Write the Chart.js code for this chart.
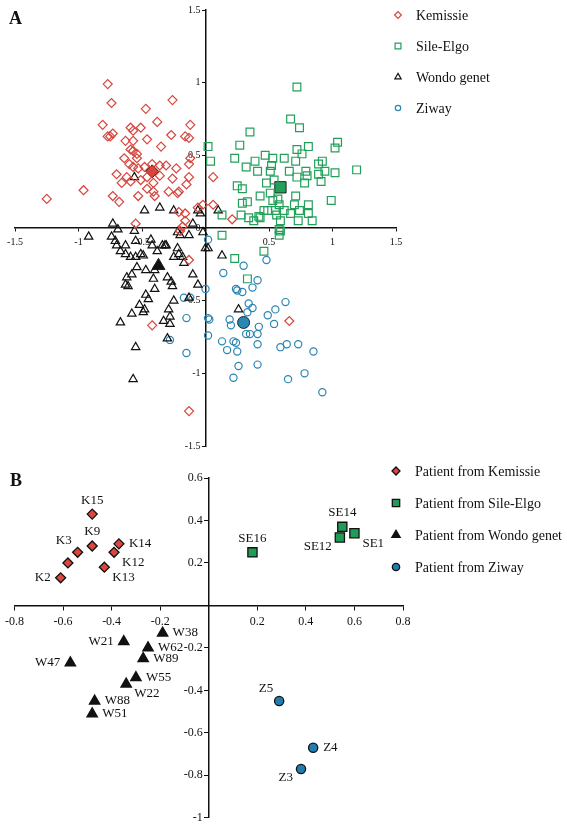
<!DOCTYPE html>
<html>
<head>
<meta charset="utf-8">
<script src="https://cdn.jsdelivr.net/npm/chart.js@4/dist/chart.umd.min.js"></script>
<style>
body{margin:0;background:#fff;}
#cadre{position:relative;width:567px;height:828px;}
canvas{position:absolute;left:0;}
.lettre{position:absolute;font:bold 18px "Liberation Serif",serif;color:#111;}
</style>
</head>
<body>
<div id="cadre">
<canvas id="graphA" width="567" height="455" style="top:0"></canvas>
<canvas id="graphB" width="567" height="373" style="top:455px"></canvas>
<div class="lettre" style="left:9px;top:8px">A</div>
<div class="lettre" style="left:10px;top:470px">B</div>
</div>
<script>
// ---- panneau A : individus (coord 1, coord 2) ----
var kemissiePts = [[-0.77,0.99],[-0.74,0.86],[-0.47,0.82],[-0.26,0.88],[-0.38,0.73],[-0.81,0.71],[-0.12,0.71],
[-0.73,0.65],[-0.75,0.63],[-0.77,0.63],[-0.59,0.69],[-0.57,0.67],[-0.51,0.69],[-0.27,0.64],
[-0.46,0.61],[-0.57,0.60],[-0.63,0.60],[-0.16,0.63],[-0.13,0.62],[-0.35,0.56],[-0.59,0.54],
[-0.57,0.53],[-0.54,0.51],[-0.64,0.48],[-0.60,0.44],[-0.54,0.48],[-0.42,0.44],[-0.36,0.43],
[-0.31,0.43],[-0.23,0.41],[-0.12,0.48],[-0.13,0.44],[-0.57,0.42],[-0.53,0.41],[-0.48,0.42],
[-0.70,0.37],[-0.62,0.35],[-0.51,0.33],[-0.46,0.35],[-0.36,0.36],[-0.26,0.34],[-0.13,0.35],
[-0.66,0.31],[-0.59,0.32],[-0.41,0.31],[-1.25,0.20],[-0.96,0.26],[-0.73,0.22],[-0.68,0.18],
[-0.53,0.22],[-0.46,0.27],[-0.41,0.25],[-0.40,0.22],[-0.29,0.25],[-0.22,0.24],[-0.21,0.25],
[-0.21,0.11],[-0.16,0.10],[-0.16,0.05],[-0.55,0.03],[-0.18,0.01],[-0.20,-0.02],[-0.06,0.14],
[0.06,0.35],[0.06,0.16],[-0.02,0.16],[0.21,0.06],[-0.13,-0.22],[-0.42,-0.67],[0.66,-0.64],
[-0.13,-1.26],[-0.15,0.30]];
var sileElgoPts = [[0.72,0.97],[0.67,0.75],[0.74,0.69],[0.35,0.66],[1.04,0.59],[1.02,0.55],[0.02,0.56],[0.04,0.46],
[0.27,0.57],[0.81,0.56],[0.72,0.54],[0.76,0.51],[0.47,0.50],[0.53,0.48],[0.62,0.48],[0.23,0.48],
[0.32,0.42],[0.39,0.46],[0.41,0.39],[0.52,0.43],[0.51,0.39],[0.66,0.39],[0.71,0.46],[0.79,0.39],
[0.80,0.36],[0.72,0.35],[0.78,0.31],[0.89,0.44],[0.92,0.46],[0.89,0.37],[0.94,0.39],[0.91,0.32],
[1.02,0.38],[1.19,0.40],[0.99,0.19],[0.25,0.29],[0.29,0.27],[0.48,0.31],[0.54,0.33],[0.43,0.22],
[0.51,0.24],[0.53,0.19],[0.33,0.18],[0.29,0.17],[0.57,0.20],[0.58,0.16],[0.55,0.12],[0.71,0.22],
[0.70,0.16],[0.67,0.10],[0.81,0.16],[0.81,0.10],[0.74,0.12],[0.46,0.12],[0.49,0.12],[0.62,0.12],
[0.28,0.09],[0.34,0.07],[0.38,0.05],[0.42,0.08],[0.43,0.07],[0.56,0.09],[0.59,0.05],[0.58,-0.01],
[0.59,-0.02],[0.73,0.05],[0.84,0.05],[0.13,0.09],[0.13,-0.05],[0.58,-0.05],[0.46,-0.16],[0.23,-0.21],
[0.33,-0.35]];
var wondoPts = [[-0.48,0.12],[-0.36,0.14],[-0.25,0.12],[-0.73,0.03],[-0.69,-0.01],[-0.92,-0.06],[-0.74,-0.06],
[-0.71,-0.09],[-0.70,-0.12],[-0.63,-0.12],[-0.67,-0.16],[-0.55,-0.09],[-0.56,-0.02],[-0.63,-0.18],
[-0.59,-0.20],[-0.55,-0.20],[-0.51,-0.18],[-0.49,-0.19],[-0.43,-0.08],[-0.42,-0.12],[-0.38,-0.16],
[-0.34,-0.12],[-0.32,-0.12],[-0.31,-0.12],[-0.22,-0.03],[-0.20,-0.05],[-0.22,-0.14],[-0.21,-0.18],
[-0.25,-0.20],[-0.18,-0.20],[-0.17,-0.24],[-0.13,-0.05],[-0.10,0.03],[-0.54,-0.27],[-0.47,-0.29],
[-0.40,-0.29],[-0.62,-0.34],[-0.58,-0.32],[-0.63,-0.39],[-0.61,-0.40],[-0.41,-0.35],[-0.40,-0.42],
[-0.30,-0.34],[-0.27,-0.37],[-0.26,-0.40],[-0.10,-0.32],[-0.06,-0.39],[-0.47,-0.46],[-0.45,-0.49],
[-0.25,-0.50],[-0.13,-0.48],[-0.52,-0.53],[-0.48,-0.56],[-0.49,-0.58],[-0.58,-0.59],[-0.29,-0.56],
[-0.28,-0.61],[-0.67,-0.65],[-0.33,-0.64],[-0.28,-0.66],[-0.30,-0.76],[-0.55,-0.82],[-0.57,-1.04],
[-0.56,0.35],[0,-0.14],[0.02,-0.14],[0.13,-0.19],[0.26,-0.56],[-0.06,0.12],[-0.04,0.10],[0.10,0.12],
[-0.02,-0.03]];
var ziwayPts = [[0.48,-0.22],[0.30,-0.26],[0.14,-0.31],[0.41,-0.36],[0.37,-0.41],[0.24,-0.42],[0.25,-0.43],[0.29,-0.44],
[0,-0.42],[-0.17,-0.48],[-0.12,-0.48],[0.34,-0.52],[0.37,-0.55],[0.33,-0.58],[0.63,-0.51],[0.55,-0.56],
[0.49,-0.60],[0.54,-0.66],[-0.15,-0.62],[0.02,-0.62],[0.03,-0.63],[0.19,-0.63],[0.20,-0.67],[0.42,-0.68],
[0.41,-0.73],[0.35,-0.73],[0.32,-0.73],[0.02,-0.74],[-0.28,-0.77],[0.13,-0.78],[0.22,-0.78],[0.24,-0.79],
[0.41,-0.80],[0.59,-0.82],[0.64,-0.80],[0.73,-0.80],[0.85,-0.85],[0.17,-0.84],[0.25,-0.85],[-0.15,-0.86],
[0.26,-0.95],[0.41,-0.94],[0.22,-1.03],[0.78,-1.00],[0.65,-1.04],[0.92,-1.13],[0.02,-0.08]];
// centres de groupe (gros symboles pleins)
var centresA = [[-0.42,0.39],[0.59,0.28],[-0.37,-0.26],[0.30,-0.65]];
var groupesA = ['Kemissie','Sile-Elgo','Wondo genet','Ziway'];
var ticksA = [-1.5,-1,-0.5,0,0.5,1,1.5];

// ---- panneau B : patients ----
var kemNoms = ['K15','K9','K3','','K2','K13','K12','K14'];
var kemPatients = [[-0.48,0.43],[-0.48,0.28],[-0.54,0.25],[-0.58,0.20],[-0.61,0.13],[-0.43,0.18],[-0.39,0.25],[-0.37,0.29]];
var seNoms = ['SE16','SE14','SE12','SE1'];
var sePatients = [[0.18,0.25],[0.55,0.37],[0.54,0.32],[0.60,0.34]];
var wNoms = ['W38','W21','W62','W89','W47','W55','W22','W88','W51'];
var wPatients = [[-0.19,-0.13],[-0.35,-0.17],[-0.25,-0.20],[-0.27,-0.25],[-0.57,-0.27],[-0.30,-0.34],[-0.34,-0.37],[-0.47,-0.45],[-0.48,-0.51]];
var zNoms = ['Z5','Z4','Z3'];
var zPatients = [[0.29,-0.45],[0.43,-0.67],[0.38,-0.77]];
var ticksBx = [-0.8,-0.6,-0.4,-0.2,0,0.2,0.4,0.6,0.8];
var ticksBy = [0.6,0.4,0.2,0,-0.2,-0.4,-0.6,-0.8,-1];

// cote du nom par rapport au point
var kemCote = ['top','top','tl','','left','br','br','right'];
var seCote = ['top','top','bl','br'];
var wCote = ['right','left','right','right','left','right','br','right','right'];
var zCote = ['tl','right','bl'];

var SERIF = 'Liberation Serif';
var ROUGE = '#d7453d', VERT = '#22a05a', NOIR = '#111111', BLEU = '#2a86b3';

function enXY(tab){ return tab.map(function(p){ return {x:p[0], y:p[1]}; }); }

/* decalages des noms de patients */
var decalage = {
  top:[0,-14,'center'], left:[-10,0,'right'], right:[10,0,'left'],
  br:[8,10,'left'], bl:[-8,9,'right'], tl:[-6,-12,'right']
};

var nomsPatients = {
  id:'nomsPatients',
  afterDatasetsDraw:function(chart){
    var ctx = chart.ctx;
    ctx.save();
    ctx.font = '13px "' + SERIF + '"';
    ctx.fillStyle = NOIR;
    ctx.textBaseline = 'middle';
    chart.data.datasets.forEach(function(ds,i){
      if(!ds.noms) return;
      chart.getDatasetMeta(i).data.forEach(function(pt,j){
        if(!ds.noms[j]) return;
        var d = decalage[ds.cotes[j]];
        ctx.textAlign = d[2];
        ctx.fillText(ds.noms[j], pt.x + d[0], pt.y + d[1]);
      });
    });
    ctx.restore();
  }
};

/* legende dessinee a droite du graphique */
var legende = {
  id:'legende',
  afterDraw:function(chart, args, opts){
    var ctx = chart.ctx;
    var k = 0;
    chart.data.datasets.forEach(function(ds){
      if(!ds.enLegende) return;
      var y = opts.y + k*opts.pas;
      ctx.save();
      ctx.lineWidth = ds.borderWidth;
      ctx.strokeStyle = ds.borderColor;
      ctx.fillStyle = ds.backgroundColor;
      Chart.helpers.drawPoint(ctx, {pointStyle:ds.pointStyle, radius:ds.pointRadius*opts.echelle, borderWidth:ds.borderWidth, rotation:0}, opts.x, y);
      ctx.restore();
      ctx.save();
      ctx.fillStyle = NOIR;
      ctx.font = opts.taille + 'px "' + SERIF + '"';
      ctx.textAlign = 'left';
      ctx.textBaseline = 'middle';
      ctx.fillText(ds.label, opts.texteX, y + 1);
      ctx.restore();
      k++;
    });
  }
};

function axe(mini, maxi, position, valeurs, taille, tl, pad, format){
  return {
    type:'linear', min:mini, max:maxi, position:position,
    afterBuildTicks:function(s){ s.ticks = valeurs.map(function(v){ return {value:v}; }); },
    ticks:{ color:NOIR, font:{family:SERIF, size:taille}, padding:pad, maxRotation:0, autoSkip:false, callback:format },
    grid:{ drawOnChartArea:false, drawTicks:true, tickLength:tl, color:NOIR, lineWidth:1 },
    border:{ display:true, color:NOIR, width:1.5 }
  };
}

// graphique A
var pointsA = [kemissiePts, sileElgoPts, wondoPts, ziwayPts];
var stylesA = ['rectRot','rect','triangle','circle'];
var couleursA = [ROUGE, VERT, NOIR, BLEU];
var rayonsA = [4.5, 5.5, 4.8, 3.6];
var rayonsCentre = [6.5, 8, 7.5, 6];
var jeuxA = [];
for(var i=0;i<4;i++){
  jeuxA.push({label:groupesA[i], data:enXY(pointsA[i]), pointStyle:stylesA[i], pointRadius:rayonsA[i],
    borderColor:couleursA[i], backgroundColor:'rgba(255,255,255,0)', borderWidth:1.2, enLegende:true});
}
for(var i=0;i<4;i++){
  jeuxA.push({label:groupesA[i]+' centre', data:enXY([centresA[i]]), pointStyle:stylesA[i], pointRadius:rayonsCentre[i],
    borderColor:'#222', backgroundColor:couleursA[i], borderWidth:1});
}

// l'axe vertical centre colle ses etiquettes a la ligne : deux blancs a droite pour les decoller
new Chart(document.getElementById('graphA'), {
  type:'scatter',
  data:{ datasets:jeuxA },
  options:{
    responsive:false, animation:false, devicePixelRatio:1,
    layout:{ padding:{left:15, right:171, top:10, bottom:5} },
    scales:{
      x:axe(-1.5,1.5,{y:0},ticksA,10,3,5,function(v){ return v===0 ? '' : String(v); }),
      y:axe(-1.5,1.5,{x:0},ticksA,10,3,2,function(v){ return String(v) + '  '; })
    },
    plugins:{
      legend:{display:false}, tooltip:{enabled:false},
      legende:{x:398, texteX:416, y:15, pas:31, echelle:0.75, taille:14}
    }
  },
  plugins:[legende]
});

// graphique B
var pointsB = [kemPatients, sePatients, wPatients, zPatients];
var nomsB = [kemNoms, seNoms, wNoms, zNoms];
var cotesB = [kemCote, seCote, wCote, zCote];
var couleursB = ['#d9473e', '#1f9c58', '#111111', '#1f7db0'];
var rayonsB = [5, 6.5, 6, 4.6];
var jeuxB = [];
for(var i=0;i<4;i++){
  jeuxB.push({label:'Patient from '+groupesA[i], data:enXY(pointsB[i]), pointStyle:stylesA[i], pointRadius:rayonsB[i],
    borderColor:'#111', backgroundColor:couleursB[i], borderWidth:1.3, enLegende:true,
    noms:nomsB[i], cotes:cotesB[i]});
}

new Chart(document.getElementById('graphB'), {
  type:'scatter',
  data:{ datasets:jeuxB },
  options:{
    responsive:false, animation:false, devicePixelRatio:1,
    layout:{ padding:{left:8, right:164, top:23, bottom:8} },
    scales:{
      x:axe(-0.8,0.8,{y:0},ticksBx,12,4,5,function(v){ return Math.abs(v)<1e-9 ? '' : v.toFixed(1); }),
      y:axe(-1,0.6,{x:0},ticksBy,12,4,3,function(v){ return Math.abs(v)<1e-9 ? '' : (v===-1 ? '-1' : v.toFixed(1)) + '  '; })
    },
    plugins:{
      legend:{display:false}, tooltip:{enabled:false},
      legende:{x:396, texteX:415, y:16, pas:32, echelle:0.8, taille:14}
    }
  },
  plugins:[legende, nomsPatients]
});
</script>
</body>
</html>
